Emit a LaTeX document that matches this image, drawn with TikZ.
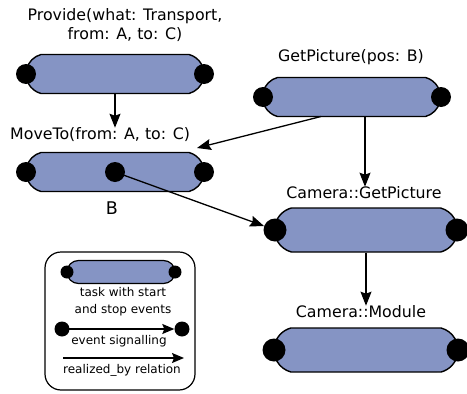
\documentclass[tikz,border=0pt]{standalone}
\usepackage{fontspec}
\setmainfont{DejaVu Sans}
\usetikzlibrary{arrows.meta,shapes.misc}
\definecolor{pillblue}{RGB}{133,148,196}
\begin{document}
\begin{tikzpicture}[x=1pt,y=-1pt,
  pill/.style={draw=black,line width=1.4pt,fill=pillblue,rounded rectangle,rounded rectangle arc length=150,inner sep=0pt,minimum width=#1},
  evdot/.style={circle,fill=black,inner sep=0pt,minimum size=#1},
  lbl/.style={font=\fontsize{15.8}{19}\selectfont,inner sep=0pt,align=center},
  small/.style={font=\fontsize{12}{17}\selectfont,inner sep=0pt,align=center},
  rb/.style={line width=1.3pt,-{Stealth[length=14pt,width=11pt,inset=2pt]}},
  rbs/.style={line width=1.2pt,-{Stealth[length=12pt,width=10pt,inset=2pt]}}]
\useasboundingbox (0,0) rectangle (467,394);
% Provide
\node[lbl] (provlab) at (125,25) {Provide(what: Transport,\\from: A, to: C)};
\node[pill=178pt,minimum height=39pt] (prov) at (115,74) {};
\node[evdot=20pt] (provs) at (26,74) {};
\node[evdot=20pt] (prove) at (204,74) {};
% MoveTo
\node[lbl,anchor=west] (movelab) at (10,135) {MoveTo(from: A, to: C)};
\node[pill=178pt,minimum height=39pt] (move) at (115,172) {};
\node[evdot=20pt] (moves) at (26,172) {};
\node[evdot=20pt] (movem) at (115,172) {};
\node[evdot=20pt] (movee) at (204,172) {};
\node[lbl,font=\fontsize{17.5}{20}\selectfont] (blab) at (112,208) {B};
% GetPicture
\node[lbl] (getplab) at (351,57) {GetPicture(pos: B)};
\node[pill=178pt,minimum height=39pt] (getp) at (351.5,97) {};
\node[evdot=20pt] (getps) at (263,97) {};
\node[evdot=20pt] (getpe) at (441,97) {};
% Camera::GetPicture
\node[lbl] (camglab) at (364,193) {Camera::GetPicture};
\node[pill=183pt,minimum height=44pt] (camg) at (366,230) {};
\node[evdot=23pt] (camgs) at (275,230) {};
\node[evdot=23pt] (camge) at (457,230) {};
% Camera::Module
\node[lbl] (cammlab) at (361,312) {Camera::Module};
\node[pill=184pt,minimum height=44pt] (camm) at (366,350) {};
\node[evdot=23pt] (camms) at (274,350) {};
\node[evdot=23pt] (camme) at (458,350) {};
% connectors
\coordinate (movetip) at (197,148);
\coordinate (getpfoot) at (321,116.5);
\coordinate (getpfoot2) at (365,116.5);
\draw[rb] (prov.south) -- (prov.south |- movelab.north);
\draw[rb] (getpfoot) -- (movetip);
\draw[rb] (getpfoot2) -- (getpfoot2 |- camglab.north);
\draw[rb] (movem.center) -- (camgs);
\draw[rb] (camg.south) -- (camg.south |- cammlab.north);
% legend
\node[draw,line width=1.2pt,rounded corners=16pt,minimum width=150pt,minimum height=138pt,inner sep=0pt] (legend) at (120,321) {};
\node[draw=black,line width=1.2pt,fill=pillblue,rounded rectangle,inner sep=0pt,minimum width=108pt,minimum height=23pt] (lpill) at (121,272) {};
\node[evdot=13pt] (lps) at (67,272) {};
\node[evdot=13pt] (lpe) at (175,272) {};
\node[small] (ltask) at (123,301.5) {task with start\\and stop events};
\node[evdot=15pt] (les) at (62,329) {};
\node[evdot=15pt] (lee) at (182,329) {};
\draw[rbs] (les.center) -- (lee);
\node[small] (levent) at (119,341) {event signalling};
\coordinate (lrs) at (63,358);
\coordinate (lre) at (184,358);
\draw[rbs] (lrs) -- (lre);
\node[small] (lreal) at (122,370) {realized\_by relation};
\end{tikzpicture}
\end{document}
